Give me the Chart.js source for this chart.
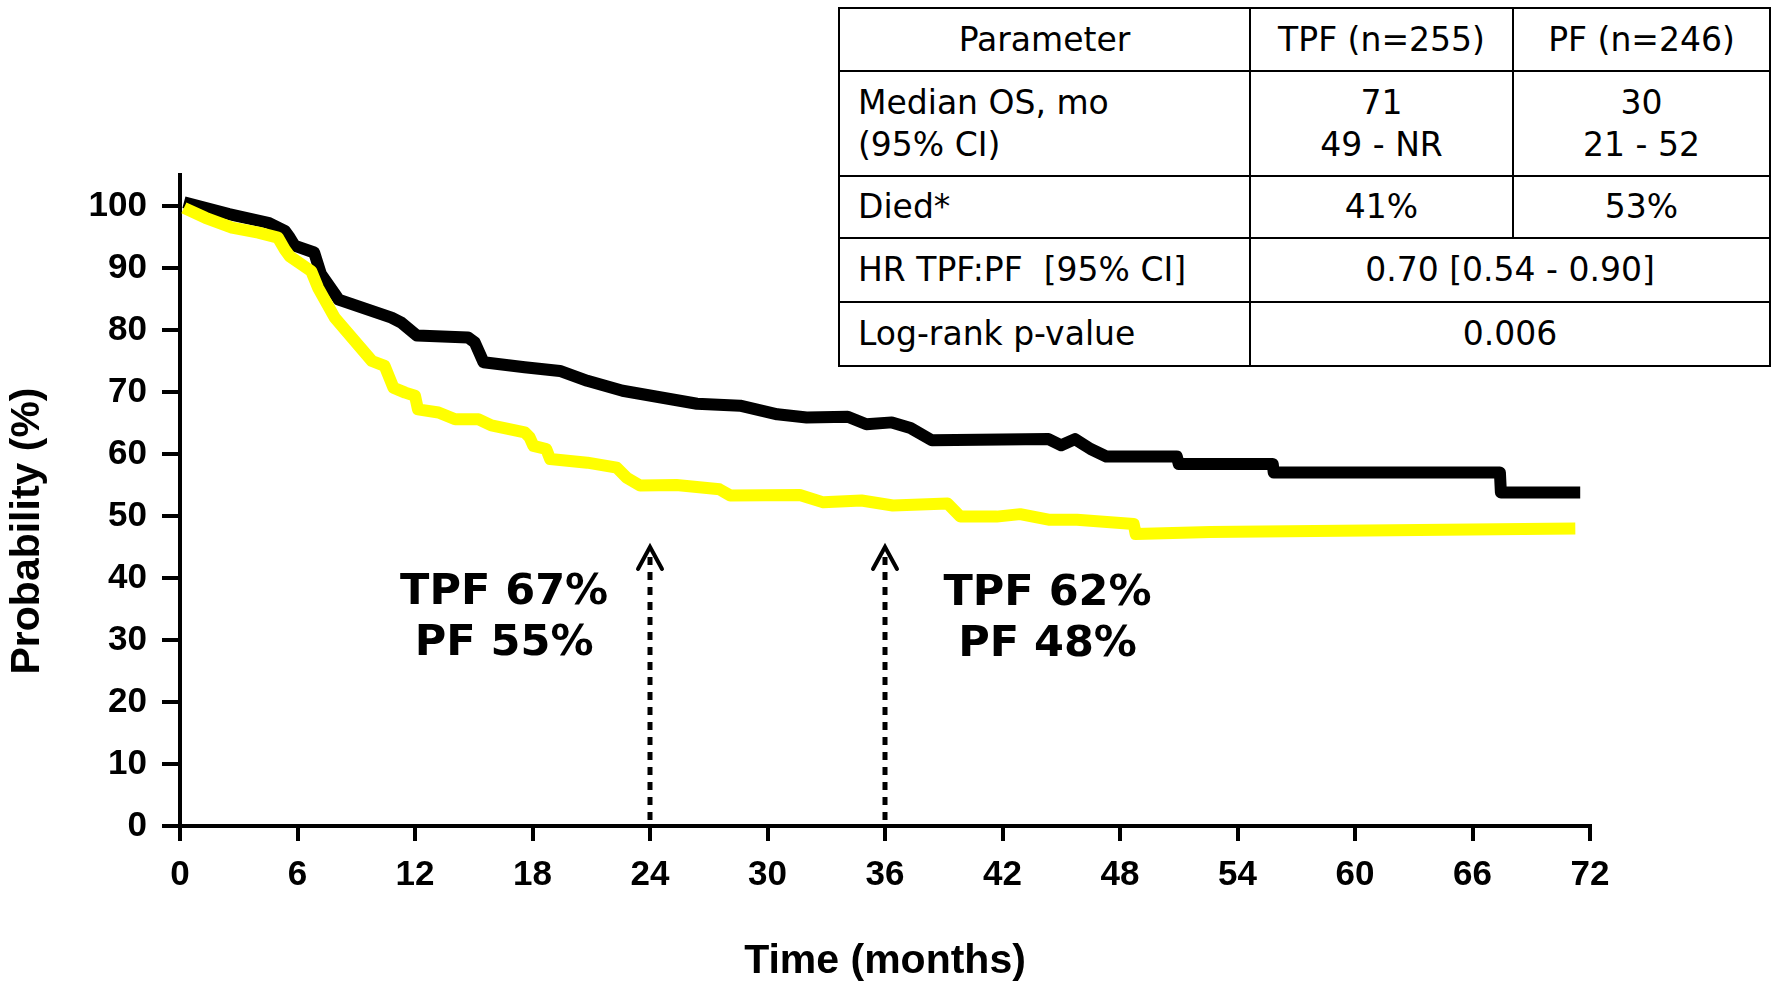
<!DOCTYPE html>
<html>
<head>
<meta charset="utf-8">
<title>Overall survival: TPF vs PF</title>
<script src="https://cdn.jsdelivr.net/npm/chart.js@4.4.1/dist/chart.umd.min.js"></script>
<style>
  html, body { margin: 0; padding: 0; background: #fff; }
  #wrap { position: relative; width: 1775px; height: 984px; overflow: hidden; }
  #osChart { position: absolute; left: 0; top: 0; }
  #osTable {
    position: absolute; left: 838px; top: 7px; width: 933px;
    border-collapse: collapse; table-layout: fixed; background: #fff;
    font-family: "DejaVu Sans", Verdana, sans-serif; font-size: 33px; line-height: 42px; color: #000;
  }
  #osTable td { border: 2px solid #000; padding: 0 18px; text-align: center; vertical-align: middle; white-space: pre; }
  #osTable td.param { text-align: left; }
</style>
</head>
<body>
<div id="wrap">
  <canvas id="osChart" width="1775" height="984"></canvas>
  <table id="osTable"></table>
</div>
<script>
// Kaplan-Meier estimates, months vs % alive
const tpfMonths = [0.2, 2.5, 4.5, 5.35, 5.6, 5.85, 6.85, 7.2, 7.95, 8.1, 10.8, 11.3, 12.1, 14.7, 15.05, 15.5,
  17.6, 19.4, 20.8, 22.6, 26.4, 28.6, 30.5, 32.0, 34.1, 35.05, 36.35, 37.3, 38.4, 44.35, 45.0, 45.7,
  46.5, 47.3, 50.9, 51.0, 55.8, 55.85, 67.4, 67.45, 71.5];
const tpfSurvival = [100.6, 98.7, 97.3, 96.0, 94.9, 93.6, 92.5, 89.0, 85.6, 84.9, 82.0, 81.2, 79.1, 78.8, 78.0, 74.8,
  74.0, 73.4, 71.8, 70.2, 68.1, 67.8, 66.4, 65.9, 66.0, 64.8, 65.1, 64.2, 62.2, 62.4, 61.4, 62.4,
  60.8, 59.6, 59.6, 58.4, 58.4, 57.0, 57.0, 53.8, 53.8];

const pfMonths = [0.2, 1.3, 2.65, 4.0, 5.0, 5.35, 5.6, 6.7, 7.05, 7.9, 9.8, 10.45, 10.9, 11.5, 12.0, 12.15,
  13.2, 14.05, 15.25, 15.9, 17.6, 17.85, 18.05, 18.7, 18.9, 20.8, 22.3, 22.8, 23.5, 25.35, 27.55, 28.1,
  31.65, 32.85, 34.8, 36.4, 39.2, 39.85, 41.7, 42.9, 44.35, 45.8, 48.7, 48.8, 52.6, 71.25];
const pfSurvival = [99.7, 98.1, 96.5, 95.7, 94.9, 93.0, 91.9, 89.5, 86.8, 82.0, 75.0, 74.2, 70.7, 69.9, 69.4, 67.2,
  66.7, 65.6, 65.6, 64.6, 63.5, 62.7, 61.3, 60.8, 59.2, 58.6, 57.8, 56.2, 54.9, 55.0, 54.3, 53.3,
  53.4, 52.2, 52.5, 51.7, 52.0, 49.9, 49.9, 50.3, 49.4, 49.4, 48.7, 47.1, 47.4, 48.0];

const timeTicks = [0, 6, 12, 18, 24, 30, 36, 42, 48, 54, 60, 66, 72];
const probTicks = [0, 10, 20, 30, 40, 50, 60, 70, 80, 90, 100];

// landmark arrows (months) and the rates quoted beside them
const arrowMonths = [24, 36];
const arrowTop = 45;
const landmarkNotes = [['TPF 67%', 'PF 55%'], ['TPF 62%', 'PF 48%']];

// summary table
const tableHead = ['Parameter', 'TPF (n=255)', 'PF (n=246)'];
const tableRows = [
  [['Median OS, mo', '(95% CI)'], ['71', '49 - NR'], ['30', '21 - 52']],
  [['Died*'], ['41%'], ['53%']],
  [['HR TPF:PF  [95% CI]'], ['0.70 [0.54 - 0.90]']],
  [['Log-rank p-value'], ['0.006']]
];

const colWidths = [411, 263, 257];
const rowHeights = [63, 105, 62, 64, 64];

function buildTable() {
  const table = document.getElementById('osTable');
  const cg = document.createElement('colgroup');
  colWidths.forEach(w => {
    const c = document.createElement('col');
    c.style.width = w + 'px';
    cg.appendChild(c);
  });
  table.appendChild(cg);

  const addRow = (cells, h, isHead) => {
    const tr = document.createElement('tr');
    tr.style.height = h + 'px';
    cells.forEach((lines, i) => {
      const td = document.createElement('td');
      if (i === 0 && !isHead) td.className = 'param';
      if (cells.length === 2 && i === 1) td.colSpan = 2;
      td.textContent = [].concat(lines).join('\n');
      tr.appendChild(td);
    });
    table.appendChild(tr);
  };
  addRow(tableHead, rowHeights[0], true);
  tableRows.forEach((r, i) => addRow(r, rowHeights[i + 1], false));
}
buildTable();

const toPoints = (xs, ys) => xs.map((m, i) => ({ x: m, y: ys[i] }));

const boldFont = (size, family) => ({ family: family || '"Liberation Sans", Arial, sans-serif', size: size, weight: 'bold' });

// dotted arrows, landmark text and the rotated y title
const notesPlugin = {
  id: 'landmarkNotes',
  afterDraw(chart, args, opts) {
    const { ctx, scales: { x, y } } = chart;
    ctx.save();
    ctx.strokeStyle = '#000';
    ctx.fillStyle = '#000';

    arrowMonths.forEach(m => {
      const px = x.getPixelForValue(m);
      const tip = y.getPixelForValue(arrowTop);
      const base = y.getPixelForValue(0);
      ctx.lineWidth = 5;
      ctx.lineCap = 'butt';
      ctx.setLineDash([8, 7]);
      ctx.beginPath();
      ctx.moveTo(px, base - 6);
      ctx.lineTo(px, tip + 10);
      ctx.stroke();
      ctx.setLineDash([]);
      ctx.lineWidth = 4;
      ctx.lineCap = 'round';
      ctx.lineJoin = 'miter';
      ctx.beginPath();
      ctx.moveTo(px - 12, tip + 22);
      ctx.lineTo(px, tip);
      ctx.lineTo(px + 12, tip + 22);
      ctx.stroke();
    });

    ctx.font = 'bold 43px "DejaVu Sans", Verdana, sans-serif';
    ctx.textAlign = 'center';
    ctx.textBaseline = 'middle';
    landmarkNotes.forEach((lines, i) => {
      const at = opts.anchors[i];
      const cx = x.getPixelForValue(at.month);
      const cy = y.getPixelForValue(at.value);
      lines.forEach((t, j) => ctx.fillText(t, cx, cy + j * opts.lineGap));
    });

    ctx.font = 'bold 41px "Liberation Sans", Arial, sans-serif';
    ctx.translate(opts.yTitle.x, opts.yTitle.y);
    ctx.rotate(-Math.PI / 2);
    ctx.fillText('Probability (%)', 0, 0);
    ctx.restore();
  }
};

new Chart(document.getElementById('osChart'), {
  type: 'line',
  data: {
    datasets: [
      { label: 'TPF', data: toPoints(tpfMonths, tpfSurvival), borderColor: '#000000', order: 2 },
      { label: 'PF', data: toPoints(pfMonths, pfSurvival), borderColor: '#ffff00', order: 1 }
    ]
  },
  options: {
    responsive: false,
    animation: false,
    devicePixelRatio: 1,
    layout: { padding: { top: 175, right: 185, left: 0, bottom: 0 } },
    elements: {
      line: { borderWidth: 12, tension: 0, borderJoinStyle: 'round', borderCapStyle: 'butt', fill: false },
      point: { radius: 0, hoverRadius: 0 }
    },
    plugins: {
      legend: { display: false },
      tooltip: { enabled: false },
      landmarkNotes: {
        anchors: [{ month: 16.55, value: 37.6 }, { month: 44.3, value: 37.4 }],
        lineGap: 51,
        yTitle: { x: 28, y: 531 }
      }
    },
    scales: {
      x: {
        type: 'linear',
        min: 0,
        max: 72,
        afterBuildTicks: s => { s.ticks = timeTicks.map(v => ({ value: v })); },
        afterFit: s => { s.height = 158; },
        grid: { drawOnChartArea: false, tickLength: 15, lineWidth: 4, color: '#000' },
        border: { width: 4, color: '#000' },
        ticks: { font: boldFont(35), color: '#000', padding: 13, maxRotation: 0, autoSkip: false },
        title: {
          display: true,
          text: 'Time (months)',
          color: '#000',
          font: Object.assign(boldFont(41), { lineHeight: 1.1 }),
          padding: { top: 0, bottom: 0 }
        }
      },
      y: {
        type: 'linear',
        min: 0,
        max: 105,
        afterBuildTicks: s => { s.ticks = probTicks.map(v => ({ value: v })); },
        afterFit: s => { s.width = 180; },
        grid: { drawOnChartArea: false, tickLength: 18, lineWidth: 4, color: '#000' },
        border: { width: 4, color: '#000' },
        ticks: { font: boldFont(35), color: '#000', padding: 15 }
      }
    }
  },
  plugins: [notesPlugin]
});
</script>
</body>
</html>
